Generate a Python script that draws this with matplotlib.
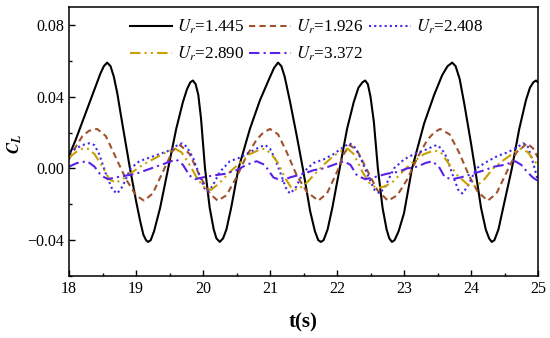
import numpy as np
import matplotlib
matplotlib.use("Agg")
import matplotlib.pyplot as plt
from matplotlib.ticker import MultipleLocator, FuncFormatter

plt.rcParams['font.family'] = ['Liberation Serif', 'DejaVu Serif']
plt.rcParams['mathtext.fontset'] = 'stix'

# Ur = 1.445
t_1445 = [18.0, 18.1, 18.2, 18.3, 18.4, 18.47, 18.52, 18.57, 18.62, 18.67, 18.72, 18.8, 18.91,
          19.0, 19.06, 19.11, 19.15, 19.18, 19.22, 19.27, 19.36, 19.48, 19.6, 19.7, 19.76, 19.81,
          19.85, 19.89, 19.93, 19.97, 20.03, 20.1, 20.16, 20.2, 20.25, 20.3, 20.35, 20.42, 20.53,
          20.7, 20.85, 21.0, 21.06, 21.12, 21.17, 21.22, 21.3, 21.4, 21.49, 21.6, 21.67, 21.72,
          21.76, 21.8, 21.86, 21.93, 22.04, 22.15, 22.25, 22.32, 22.38, 22.42, 22.46, 22.5, 22.55,
          22.61, 22.68, 22.74, 22.78, 22.82, 22.86, 22.92, 23.0, 23.12, 23.3, 23.45, 23.57, 23.65,
          23.72, 23.77, 23.83, 23.9, 24.0, 24.06, 24.15, 24.22, 24.27, 24.31, 24.35, 24.41, 24.48,
          24.61, 24.72, 24.82, 24.88, 24.93, 24.97, 25.0]
cl_1445 = [0.007, 0.016, 0.026, 0.036, 0.046, 0.053, 0.057, 0.059, 0.057, 0.051, 0.042, 0.024, 0.000,
           -0.018, -0.029, -0.037, -0.040, -0.041, -0.040, -0.035, -0.022, 0.000, 0.022, 0.037, 0.044, 0.048,
           0.049, 0.047, 0.041, 0.028, 0.000, -0.022, -0.034, -0.039, -0.041, -0.039, -0.034, -0.022, 0.000,
           0.022, 0.038, 0.051, 0.056, 0.059, 0.057, 0.051, 0.037, 0.018, 0.000, -0.024, -0.035, -0.040,
           -0.041, -0.040, -0.034, -0.022, 0.000, 0.022, 0.037, 0.045, 0.048, 0.049, 0.047, 0.040, 0.026,
           0.000, -0.022, -0.034, -0.039, -0.041, -0.040, -0.035, -0.025, 0.000, 0.025, 0.041, 0.052, 0.057,
           0.059, 0.057, 0.050, 0.036, 0.014, 0.000, -0.022, -0.034, -0.039, -0.041, -0.040, -0.034, -0.022,
           0.000, 0.022, 0.038, 0.045, 0.048, 0.049, 0.048]

# Ur = 1.926
t_1926 = [18.0, 18.1, 18.2, 18.3, 18.42, 18.55, 18.7, 18.85, 19.0, 19.12, 19.25, 19.4, 19.55, 19.66,
          19.8, 19.95, 20.1, 20.22, 20.35, 20.5, 20.65, 20.8, 20.9, 21.0, 21.12, 21.25, 21.4, 21.55,
          21.72, 21.85, 22.0, 22.1, 22.19, 22.3, 22.45, 22.6, 22.76, 22.9, 23.05, 23.2, 23.35, 23.45,
          23.54, 23.68, 23.82, 23.97, 24.1, 24.25, 24.38, 24.52, 24.68, 24.84, 24.93, 25.0]
cl_1926 = [0.005, 0.012, 0.018, 0.021, 0.022, 0.018, 0.006, -0.006, -0.015, -0.018, -0.014, -0.002, 0.010, 0.013,
           0.008, -0.004, -0.014, -0.018, -0.015, -0.005, 0.007, 0.016, 0.020, 0.022, 0.019, 0.009, -0.004, -0.013,
           -0.018, -0.014, -0.002, 0.008, 0.013, 0.010, -0.001, -0.012, -0.018, -0.015, -0.006, 0.006, 0.016, 0.020,
           0.022, 0.019, 0.009, -0.004, -0.013, -0.018, -0.014, -0.003, 0.009, 0.014, 0.011, 0.006]

# Ur = 2.408
t_2408 = [18.0, 18.1, 18.2, 18.3, 18.38, 18.45, 18.55, 18.65, 18.72, 18.8, 18.92, 19.05, 19.2, 19.35,
          19.5, 19.62, 19.69, 19.76, 19.85, 19.95, 20.02, 20.07, 20.14, 20.25, 20.4, 20.55, 20.7, 20.85,
          20.93, 21.0, 21.08, 21.17, 21.25, 21.3, 21.38, 21.5, 21.65, 21.8, 21.95, 22.1, 22.19, 22.26,
          22.35, 22.45, 22.56, 22.64, 22.72, 22.85, 23.0, 23.15, 23.3, 23.42, 23.49, 23.56, 23.64, 23.72,
          23.81, 23.87, 23.95, 24.08, 24.25, 24.4, 24.55, 24.7, 24.78, 24.85, 24.92, 25.0]
cl_2408 = [0.009, 0.011, 0.013, 0.014, 0.013, 0.008, -0.003, -0.012, -0.014, -0.010, 0.000, 0.004, 0.006, 0.008,
           0.010, 0.013, 0.014, 0.012, 0.006, -0.004, -0.011, -0.013, -0.010, -0.002, 0.004, 0.006, 0.009, 0.012,
           0.013, 0.011, 0.005, -0.004, -0.012, -0.014, -0.011, -0.002, 0.003, 0.005, 0.008, 0.012, 0.014, 0.012,
           0.006, -0.003, -0.012, -0.014, -0.010, 0.000, 0.005, 0.008, 0.010, 0.012, 0.013, 0.011, 0.006, -0.003,
           -0.012, -0.014, -0.010, 0.000, 0.004, 0.007, 0.009, 0.012, 0.014, 0.012, 0.004, -0.007]

# Ur = 2.890
t_2890 = [18.0, 18.1, 18.2, 18.28, 18.38, 18.5, 18.6, 18.7, 18.8, 18.95, 19.1, 19.3, 19.45, 19.58,
          19.68, 19.8, 19.92, 20.03, 20.12, 20.25, 20.4, 20.55, 20.7, 20.82, 20.92, 21.02, 21.12, 21.22,
          21.32, 21.4, 21.52, 21.65, 21.8, 21.95, 22.08, 22.16, 22.25, 22.38, 22.5, 22.6, 22.72, 22.85,
          23.0, 23.15, 23.3, 23.45, 23.55, 23.68, 23.8, 23.95, 24.08, 24.2, 24.33, 24.5, 24.65, 24.75,
          24.85, 24.95, 25.0]
cl_2890 = [0.006, 0.009, 0.011, 0.011, 0.008, 0.001, -0.006, -0.008, -0.006, -0.002, 0.002, 0.006, 0.009, 0.011,
           0.009, 0.002, -0.006, -0.011, -0.012, -0.008, -0.002, 0.003, 0.008, 0.010, 0.011, 0.008, 0.003, -0.005,
           -0.011, -0.012, -0.009, -0.004, 0.002, 0.007, 0.010, 0.011, 0.008, -0.002, -0.009, -0.011, -0.010, -0.007,
           -0.001, 0.004, 0.008, 0.010, 0.009, 0.002, -0.004, -0.009, -0.010, -0.006, 0.000, 0.005, 0.009, 0.011,
           0.009, 0.004, 0.002]

# Ur = 3.372
t_3372 = [18.0, 18.12, 18.27, 18.38, 18.48, 18.58, 18.7, 18.85, 19.0, 19.15, 19.3, 19.45, 19.6, 19.7,
          19.8, 19.88, 20.0, 20.15, 20.33, 20.5, 20.65, 20.8, 20.92, 21.05, 21.18, 21.3, 21.5, 21.65,
          21.8, 21.95, 22.1, 22.2, 22.3, 22.42, 22.55, 22.74, 22.9, 23.05, 23.2, 23.32, 23.42, 23.52,
          23.61, 23.72, 23.85, 24.03, 24.2, 24.35, 24.5, 24.66, 24.75, 24.84, 24.92, 25.0]
cl_3372 = [0.001, 0.003, 0.004, 0.001, -0.004, -0.006, -0.005, -0.004, -0.003, -0.001, 0.001, 0.003, 0.005, 0.002,
           -0.004, -0.006, -0.005, -0.004, -0.003, -0.001, 0.002, 0.004, 0.002, -0.005, -0.007, -0.005, -0.003, -0.001,
           0.000, 0.002, 0.004, 0.002, -0.004, -0.006, -0.005, -0.003, -0.002, 0.000, 0.001, 0.003, 0.004, 0.001,
           -0.005, -0.006, -0.005, -0.003, -0.001, 0.001, 0.002, 0.004, 0.002, -0.002, -0.005, -0.007]

labels = ['1.445', '1.926', '2.408', '2.890', '3.372']

fig = plt.figure(figsize=(5.5, 3.38), dpi=100)
ax = fig.add_axes([69/550, 1 - 276/338, (538 - 69)/550, (276 - 7)/338])

h0, = ax.plot(t_1445, cl_1445, color='black', lw=1.5, label=r'$U_r$=' + labels[0])
h1, = ax.plot(t_1926, cl_1926, color='#A0522D', lw=1.5, linestyle=(0, (3, 2)), label=r'$U_r$=' + labels[1])
h2, = ax.plot(t_2408, cl_2408, color='#3B2BF0', lw=1.5, linestyle=(0, (1, 1.5)), label=r'$U_r$=' + labels[2])
h3, = ax.plot(t_2890, cl_2890, color='#C9A000', lw=1.5, linestyle=(0, (5, 2, 1, 2, 1, 2)), label=r'$U_r$=' + labels[3])
h4, = ax.plot(t_3372, cl_3372, color='#5A22E6', lw=1.5, linestyle=(0, (5, 2, 1, 2)), label=r'$U_r$=' + labels[4])

ax.set_xlim(18, 25)
ax.set_ylim(-0.06, 0.09)
ax.xaxis.set_major_locator(MultipleLocator(1))
ax.xaxis.set_minor_locator(MultipleLocator(0.5))
ax.yaxis.set_major_locator(MultipleLocator(0.04))
ax.yaxis.set_minor_locator(MultipleLocator(0.02))
ax.yaxis.set_major_formatter(FuncFormatter(lambda v, p: ('%.2f' % v).replace('-', '\u2212')))
ax.tick_params(which='both', direction='in', top=False, right=False, labelsize=11.5)
ax.tick_params(which='major', length=4, width=1)
ax.tick_params(which='minor', length=2.5, width=1)
for s in ax.spines.values():
    s.set_linewidth(1.1)

fig.text(303/550, 1 - 322/338, 't(s)', fontsize=15, fontweight='bold', ha='center', va='center')
fig.text(15/550, 1 - 144/338, r'$\mathbfit{C}_{\mathbfit{L}}$', fontsize=12, rotation=90,
         ha='center', va='center')

# row-wise order for a 3-column legend
hs = [h0, h3, h1, h4, h2]
ax.legend(hs, [h.get_label() for h in hs], loc='upper left', bbox_to_anchor=(0.13, 0.96),
          ncol=3, frameon=False, fontsize=12.3, handlelength=2.45, handletextpad=0.3,
          columnspacing=0.3, labelspacing=0.5, borderpad=0, borderaxespad=0)

fig.savefig('out.png', dpi=100)
